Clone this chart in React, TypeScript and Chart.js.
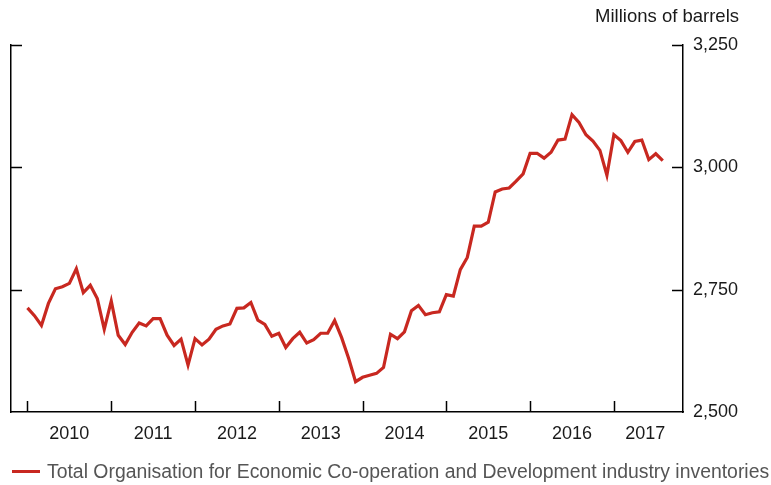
import React, { useEffect, useRef } from "react";
import { Chart, registerables } from "chart.js";

Chart.register(...registerables);

// Monthly OECD industry inventories, Jan 2010 .. Aug 2017 (millions of barrels)
const startYear = 2010;
const inventories = [
  2713, 2697, 2677, 2722, 2752, 2756, 2763, 2793, 2744, 2759, 2732, 2669,
  2727, 2657, 2638, 2663, 2682, 2676, 2691, 2691, 2657, 2636, 2649, 2596,
  2650, 2637, 2649, 2669, 2676, 2680, 2712, 2713, 2724, 2688, 2679, 2655,
  2661, 2632, 2650, 2663, 2641, 2648, 2661, 2661, 2687, 2652, 2610, 2562,
  2571, 2575, 2579, 2591, 2659, 2650, 2664, 2707, 2718, 2699, 2703, 2705,
  2740, 2737, 2791, 2816, 2880, 2880, 2888, 2950, 2956, 2958, 2972, 2987,
  3029, 3029, 3019, 3031, 3056, 3058, 3108, 3092, 3067, 3054, 3035, 2984,
  3067, 3055, 3031, 3053, 3056, 3016, 3028, 3014,
];
const yearLabels = ["2010", "2011", "2012", "2013", "2014", "2015", "2016", "2017"];
const yearLabelPos = [6, 18, 30, 42, 54, 66, 78, 88.5];
const yearTickPos = [0, 12, 24, 36, 48, 60, 72, 84];
const yTicks = [2500, 2750, 3000, 3250];
const seriesLabel = "Total Organisation for Economic Co-operation and Development industry inventories";
const unitLabel = "Millions of barrels";

const RED = "rgb(200,40,32)";
const FONT = "'Liberation Sans', Arial, Helvetica, sans-serif";

const innerTicks = {
  id: "innerTicks",
  afterDraw(chart: any) {
    const { ctx, chartArea, scales } = chart;
    const x = scales.x;
    const y = scales.y;
    ctx.save();
    ctx.strokeStyle = "#000";
    ctx.lineWidth = 1.5;
    ctx.beginPath();
    for (const v of yearTickPos) {
      const px = Math.round(x.getPixelForValue(v)) + 0.5;
      ctx.moveTo(px, chartArea.bottom);
      ctx.lineTo(px, chartArea.bottom - 11);
    }
    for (const v of yTicks) {
      if (v === yTicks[0]) continue;
      const py = Math.round(y.getPixelForValue(v)) + 0.5;
      ctx.moveTo(chartArea.left, py);
      ctx.lineTo(chartArea.left + 11, py);
      ctx.moveTo(chartArea.right, py);
      ctx.lineTo(chartArea.right - 11, py);
    }
    ctx.stroke();
    ctx.restore();
  },
};

export default function App() {
  const canvasRef = useRef<HTMLCanvasElement | null>(null);

  useEffect(() => {
    document.body.style.margin = "0";
    const canvas = canvasRef.current;
    if (!canvas) return;
    Chart.defaults.font.family = FONT;
    const chart = new Chart(canvas, {
      type: "line",
      data: {
        datasets: [
          {
            label: seriesLabel,
            data: inventories.map((v, i) => ({ x: i, y: v })),
            borderColor: RED,
            backgroundColor: RED,
            borderWidth: 3.2,
            pointRadius: 0,
            tension: 0,
            borderJoinStyle: "miter",
          },
        ],
      },
      options: {
        animation: false,
        responsive: false,
        devicePixelRatio: 1,
        layout: { padding: { left: 0, right: 32, top: 0, bottom: 0 } },
        plugins: {
          legend: { display: false },
          tooltip: { enabled: false },
          title: {
            display: true,
            text: unitLabel,
            align: "end",
            color: "#1a1a1a",
            font: { size: 18.5, weight: "normal", family: FONT },
            padding: { top: 6, bottom: 17 },
          },
        },
        scales: {
          x: {
            type: "linear",
            min: -2.36,
            max: inventories.length - 1 + 2.9,
            grid: { display: false, drawTicks: false },
            border: { display: true, color: "#000", width: 1.5 },
            afterBuildTicks: (scale: any) => {
              scale.ticks = yearLabelPos.map((v) => ({ value: v }));
            },
            afterFit: (scale: any) => {
              scale.height = 73;
            },
            ticks: {
              autoSkip: false,
              maxRotation: 0,
              padding: 11,
              color: "#1a1a1a",
              font: { size: 18, family: FONT },
              callback: (_v: any, i: number) => yearLabels[i] ?? String(startYear + i),
            },
          },
          y: {
            position: "right",
            min: 2500,
            max: 3250,
            grid: { display: false, drawTicks: false },
            border: { display: true, color: "#000", width: 1.5 },
            afterBuildTicks: (scale: any) => {
              scale.ticks = yTicks.map((v) => ({ value: v }));
            },
            afterFit: (scale: any) => {
              scale.width = 56;
            },
            ticks: {
              padding: 10,
              color: "#1a1a1a",
              font: { size: 18, family: FONT },
              callback: (v: any) => Number(v).toLocaleString("en-US"),
            },
          },
          yLeft: {
            position: "left",
            min: 2500,
            max: 3250,
            grid: { display: false, drawTicks: false },
            border: { display: true, color: "#000", width: 1.5 },
            ticks: { display: false },
            afterFit: (scale: any) => {
              scale.width = 11;
            },
          },
        },
      },
      plugins: [innerTicks],
    } as any);
    return () => chart.destroy();
  }, []);

  return (
    <div style={{ position: "relative", width: 771, height: 485, background: "#fff", overflow: "hidden" }}>
      <canvas ref={canvasRef} width={771} height={485} style={{ display: "block" }} />
      <div
        style={{
          position: "absolute",
          left: 12,
          top: 460,
          display: "flex",
          alignItems: "center",
          whiteSpace: "nowrap",
          fontFamily: FONT,
          fontSize: 19.4,
          color: "#555",
          height: 22,
        }}
      >
        <span style={{ display: "inline-block", width: 28, height: 3, background: RED, marginRight: 7 }} />
        <span>{seriesLabel}</span>
      </div>
    </div>
  );
}
